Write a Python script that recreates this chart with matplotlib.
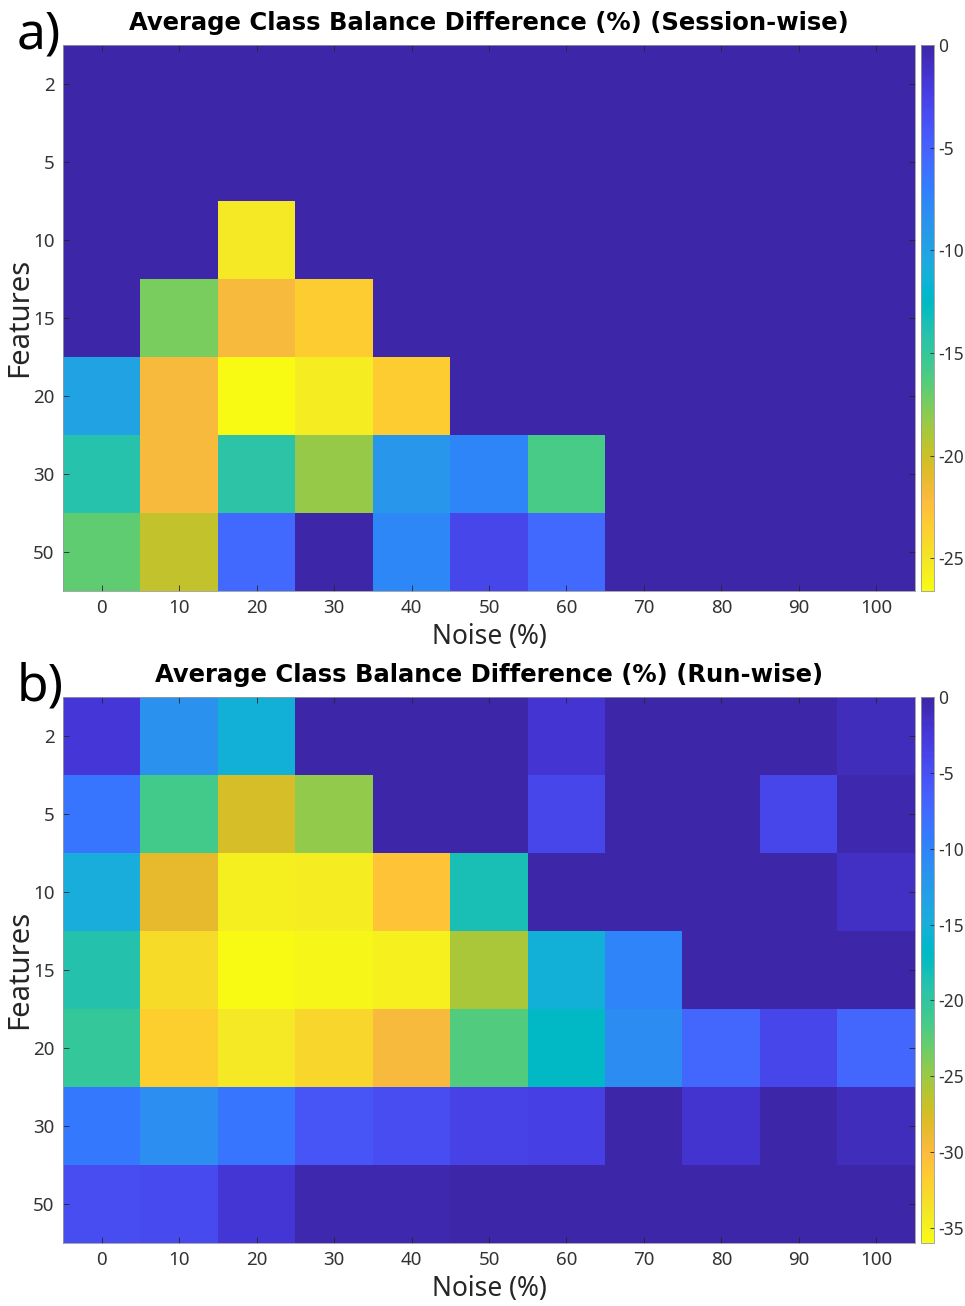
import numpy as np
import matplotlib
matplotlib.use("Agg")
import matplotlib.pyplot as plt
from matplotlib.colors import LinearSegmentedColormap, Normalize

plt.rcParams["axes.unicode_minus"] = False
plt.rcParams["font.family"] = ["Noto Sans", "DejaVu Sans"]

# ---- data -------------------------------------------------------------
noise_levels = [0, 10, 20, 30, 40, 50, 60, 70, 80, 90, 100]
feature_counts = [2, 5, 10, 15, 20, 30, 50]

# Average class balance difference (%), session-wise; rows = features, cols = noise
session_wise = [
    [0.0, 0.0, 0.0, 0.0, 0.0, 0.0, 0.0, 0.0, 0.0, 0.0, 0.0],
    [0.0, 0.0, 0.0, 0.0, 0.0, 0.0, 0.0, 0.0, 0.0, 0.0, 0.0],
    [0.0, 0.0, -25.3, 0.0, 0.0, 0.0, 0.0, 0.0, 0.0, 0.0, 0.0],
    [0.0, -17.5, -22.0, -23.4, 0.0, 0.0, 0.0, 0.0, 0.0, 0.0, 0.0],
    [-9.9, -22.0, -26.6, -25.5, -23.4, 0.0, 0.0, 0.0, 0.0, 0.0, 0.0],
    [-14.1, -22.0, -14.4, -18.3, -8.9, -7.5, -16.0, 0.0, 0.0, 0.0, 0.0],
    [-16.8, -19.7, -5.6, 0.0, -7.6, -3.0, -5.6, 0.0, 0.0, 0.0, 0.0],
]

# Average class balance difference (%), run-wise
run_wise = [
    [-2.5, -11.5, -15.4, 0.0, 0.0, 0.0, -2.2, 0.0, 0.0, 0.0, -1.1],
    [-8.6, -21.3, -27.6, -24.7, 0.0, 0.0, -4.0, 0.0, 0.0, -4.0, -0.3],
    [-14.9, -28.6, -34.8, -34.5, -30.9, -18.3, 0.0, 0.0, 0.0, 0.0, -1.5],
    [-18.9, -33.1, -36.0, -35.5, -35.0, -25.7, -15.4, -10.0, 0.0, 0.0, 0.0],
    [-20.3, -32.0, -34.3, -32.6, -29.7, -22.0, -17.0, -10.9, -7.2, -4.0, -7.2],
    [-9.0, -11.2, -8.6, -5.5, -4.7, -3.6, -3.4, 0.0, -2.0, 0.0, -1.1],
    [-4.7, -4.4, -2.3, -0.3, -0.3, 0.0, 0.0, 0.0, 0.0, 0.0, 0.0],
]

session_ticks = [0, -5, -10, -15, -20, -25]
run_ticks = [0, -5, -10, -15, -20, -25, -30, -35]

# ---- parula colormap ----------------------------------------------------
_parula = [
    [0.2422, 0.1504, 0.6603], [0.2504, 0.1650, 0.7076], [0.2578, 0.1818, 0.7511],
    [0.2647, 0.1978, 0.7952], [0.2706, 0.2147, 0.8364], [0.2751, 0.2342, 0.8710],
    [0.2783, 0.2559, 0.8991], [0.2803, 0.2782, 0.9221], [0.2813, 0.3006, 0.9414],
    [0.2810, 0.3228, 0.9579], [0.2795, 0.3447, 0.9717], [0.2760, 0.3667, 0.9829],
    [0.2699, 0.3892, 0.9906], [0.2602, 0.4123, 0.9952], [0.2440, 0.4358, 0.9988],
    [0.2206, 0.4603, 0.9973], [0.1963, 0.4847, 0.9892], [0.1834, 0.5074, 0.9798],
    [0.1786, 0.5289, 0.9682], [0.1764, 0.5499, 0.9520], [0.1687, 0.5703, 0.9359],
    [0.1540, 0.5902, 0.9218], [0.1460, 0.6091, 0.9079], [0.1380, 0.6276, 0.8973],
    [0.1248, 0.6459, 0.8883], [0.1113, 0.6635, 0.8763], [0.0952, 0.6798, 0.8598],
    [0.0689, 0.6948, 0.8394], [0.0297, 0.7082, 0.8163], [0.0036, 0.7203, 0.7917],
    [0.0067, 0.7312, 0.7660], [0.0433, 0.7411, 0.7394], [0.0964, 0.7500, 0.7120],
    [0.1408, 0.7584, 0.6842], [0.1717, 0.7670, 0.6554], [0.1938, 0.7758, 0.6251],
    [0.2161, 0.7843, 0.5923], [0.2470, 0.7918, 0.5567], [0.2906, 0.7973, 0.5188],
    [0.3406, 0.8008, 0.4789], [0.3909, 0.8029, 0.4354], [0.4456, 0.8024, 0.3909],
    [0.5044, 0.7993, 0.3480], [0.5616, 0.7942, 0.3045], [0.6174, 0.7876, 0.2612],
    [0.6720, 0.7793, 0.2227], [0.7242, 0.7698, 0.1910], [0.7738, 0.7598, 0.1646],
    [0.8203, 0.7498, 0.1535], [0.8634, 0.7406, 0.1596], [0.9035, 0.7330, 0.1774],
    [0.9393, 0.7288, 0.2100], [0.9728, 0.7298, 0.2394], [0.9956, 0.7434, 0.2371],
    [0.9970, 0.7659, 0.2199], [0.9952, 0.7893, 0.2028], [0.9892, 0.8136, 0.1885],
    [0.9786, 0.8386, 0.1766], [0.9676, 0.8639, 0.1643], [0.9610, 0.8890, 0.1537],
    [0.9597, 0.9135, 0.1423], [0.9628, 0.9373, 0.1265], [0.9691, 0.9606, 0.1064],
    [0.9769, 0.9839, 0.0805],
]
parula_r = LinearSegmentedColormap.from_list("parula_r", _parula[::-1], N=256)

# ---- figure -------------------------------------------------------------
W, H = 965, 1306
fig = plt.figure(figsize=(W / 100, H / 100), dpi=100)

TICK_COLOR = (0.15, 0.15, 0.15)
LABEL_COLOR = (0.2, 0.2, 0.2)


def px_axes(x0, y0, x1, y1):
    return fig.add_axes([x0 / W, 1 - y1 / H, (x1 - x0) / W, (y1 - y0) / H])


def draw_panel(data, ticks, y_top, letter, title):
    arr = np.array(data)
    vmin = arr.min()
    ax = px_axes(63, y_top, 915, y_top + 546)
    ax.imshow(arr, cmap=parula_r, norm=Normalize(vmin=vmin, vmax=0),
              aspect="auto", interpolation="nearest",
              extent=(-0.5, len(noise_levels) - 0.5, len(feature_counts) - 0.5, -0.5))
    ax.set_xticks(range(len(noise_levels)))
    ax.set_xticklabels([str(v) for v in noise_levels])
    ax.set_yticks(range(len(feature_counts)))
    ax.set_yticklabels([str(v) for v in feature_counts])
    ax.tick_params(direction="in", length=4, width=0.6, colors=TICK_COLOR,
                   labelsize=13.5, top=True, right=True, pad=6)
    for lab in ax.get_xticklabels() + ax.get_yticklabels():
        lab.set_color(LABEL_COLOR)
    for sp in ax.spines.values():
        sp.set_color((0.6, 0.6, 0.6))
        sp.set_linewidth(0.6)

    cax = px_axes(921, y_top, 934, y_top + 546)
    sm = plt.cm.ScalarMappable(cmap=parula_r, norm=Normalize(vmin=vmin, vmax=0))
    cb = fig.colorbar(sm, cax=cax, ticks=ticks)
    cb.ax.set_yticklabels([str(t) for t in ticks])
    cb.ax.tick_params(direction="in", length=3, width=0.6, colors=TICK_COLOR,
                      labelsize=12.5, pad=3)
    for lab in cb.ax.get_yticklabels():
        lab.set_color(LABEL_COLOR)
    cb.outline.set_edgecolor((0.6, 0.6, 0.6))
    cb.outline.set_linewidth(0.6)

    fig.text(489 / W, 1 - (y_top - 22) / H, title, ha="center", va="center",
             fontsize=17.5, fontweight="bold", family="DejaVu Sans",
             color="black")
    fig.text(17 / W, 1 - (y_top + 3) / H, letter, ha="left", va="baseline",
             fontsize=37, color="black")
    fig.text(489 / W, 1 - (y_top + 592) / H, "Noise (%)", ha="center",
             va="center", fontsize=19, color=(0.15, 0.15, 0.15))
    fig.text(20 / W, 1 - (y_top + 272) / H, "Features", ha="center",
             va="center", rotation=90, fontsize=21, color=(0.15, 0.15, 0.15))


draw_panel(session_wise, session_ticks, 45, "a)",
           "Average Class Balance Difference (%) (Session-wise)")
draw_panel(run_wise, run_ticks, 697, "b)",
           "Average Class Balance Difference (%) (Run-wise)")

fig.savefig("out.png", dpi=100, facecolor="white")
